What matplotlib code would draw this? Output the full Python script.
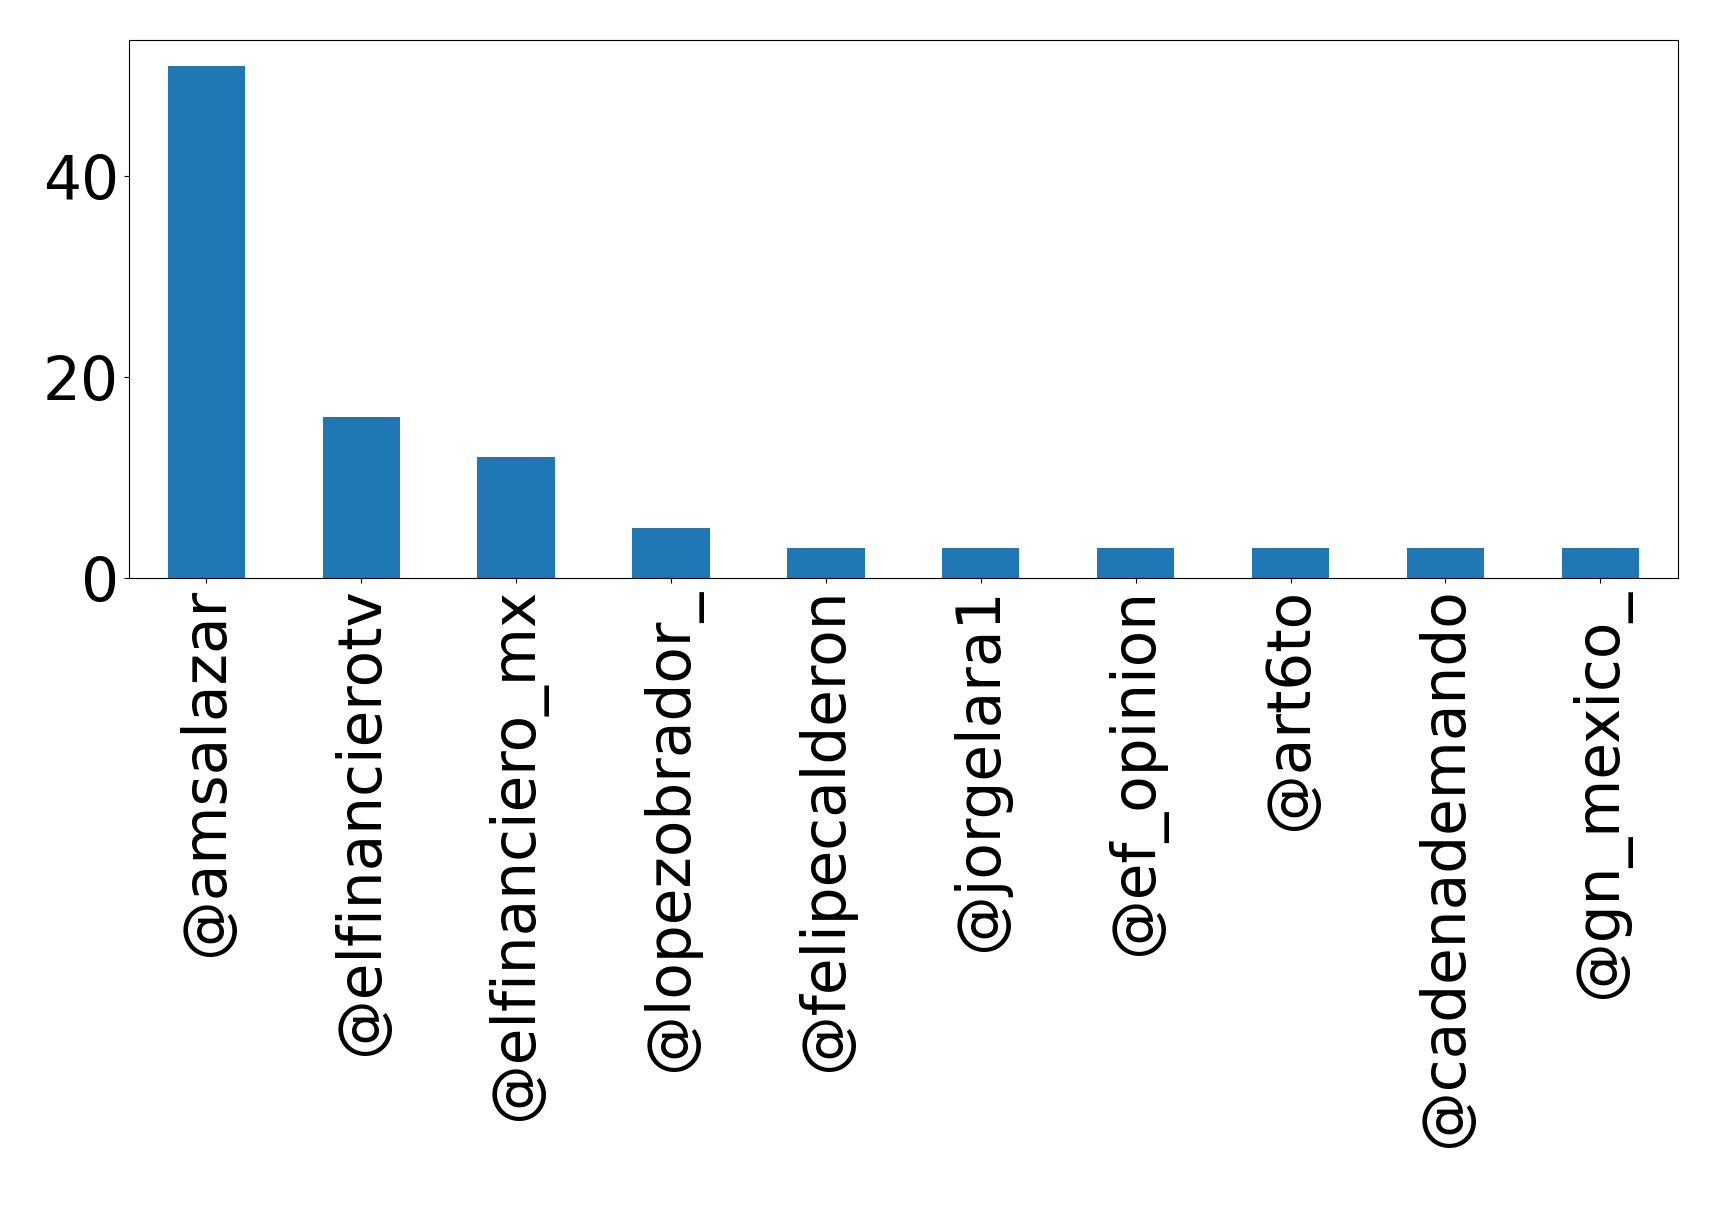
import matplotlib
matplotlib.use("Agg")
import matplotlib.pyplot as plt

users = ['@amsalazar', '@elfinancierotv', '@elfinanciero_mx', '@lopezobrador_',
         '@felipecalderon', '@jorgelara1', '@ef_opinion', '@art6to',
         '@cadenademando', '@gn_mexico_']
counts = [51, 16, 12, 5, 3, 3, 3, 3, 3, 3]

fig = plt.figure(figsize=(17.19, 12.14), dpi=100)
ax = fig.add_axes([0.075, 0.524, 0.901, 0.443])
x = range(len(users))
ax.bar(x, counts, width=0.5, color='#1f77b4')
ax.set_xlim(-0.5, len(users) - 0.5)
ax.set_ylim(0, 53.55)
ax.set_xticks(list(x))
ax.set_xticklabels(users, rotation=90, fontsize=43)
ax.tick_params(axis='y', labelsize=43)
fig.savefig('out.png', dpi=100)
